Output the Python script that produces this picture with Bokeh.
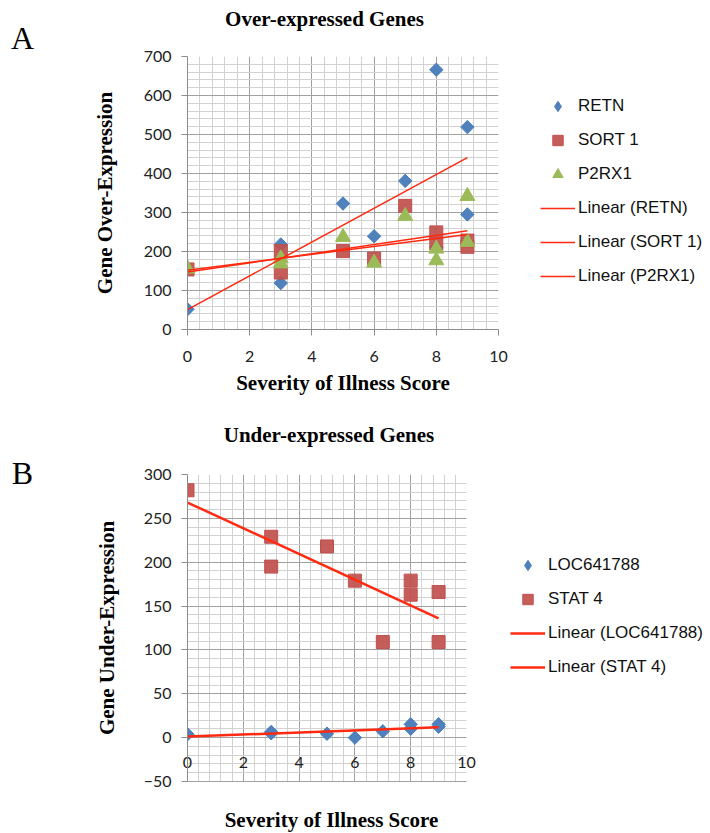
import numpy as np
from bokeh.plotting import figure
from bokeh.models import Range1d, SingleIntervalTicker, Label, Legend, LegendItem
from bokeh.layouts import column, row
from bokeh.embed import file_html
from bokeh.resources import INLINE

# ---------------- data ----------------
severity = [0, 3, 3, 5, 6, 7, 8, 8, 9, 9]

# Panel A: over-expressed genes
retn = [52, 218, 119, 323, 239, 381, 666, 210, 519, 295]
sort1 = [154, 201, 146, 201, 182, 317, 249, 220, 212, 228]
p2rx1 = [156, 169, 182, 237, 171, 291, 207, 177, 342, 224]

# Panel B: under-expressed genes
loc641788 = [3.8, 6.4, 5.0, 4.5, 0.0, 7.2, 15.2, 10.2, 15.2, 12.5]
stat4 = [282, 229, 195, 218, 179, 109, 179, 163, 166, 109]

BLUE = "#4F81BD"
RED = "#C0504D"
GREEN = "#9BBB59"
TREND = "#FF2A10"

TICK_FONT = "Lato"
SERIF = "Liberation Serif"
W_TOTAL, H_TOTAL = 710, 833
STRIP_W = 45
COL_W = W_TOTAL - STRIP_W
LEFT_B = 142                      # left border of every figure in the column
FRAME_X0 = STRIP_W + LEFT_B       # page x of the plot frames' left edge


def trend(xs, ys):
    slope, icept = np.polyfit(np.asarray(xs, float), np.asarray(ys, float), 1)
    x0, x1 = min(xs), max(xs)
    return [x0, x1], [icept + slope * x0, icept + slope * x1]


def style(p, xint, yint):
    p.outline_line_color = None
    p.xaxis.ticker = SingleIntervalTicker(interval=xint, num_minor_ticks=5)
    p.yaxis.ticker = SingleIntervalTicker(interval=yint, num_minor_ticks=5)
    p.xgrid.ticker = p.xaxis.ticker
    p.ygrid.ticker = p.yaxis.ticker
    for g in (p.xgrid, p.ygrid):
        g.grid_line_color = "#A0A0A0"
        g.grid_line_width = 1
        g.minor_grid_line_color = "#D2D2D2"
        g.minor_grid_line_width = 1
    for ax in (p.xaxis, p.yaxis):
        ax.axis_line_color = "#8C8C8C"
        ax.major_tick_line_color = "#8C8C8C"
        ax.major_tick_in = 0
        ax.major_tick_out = 6
        ax.minor_tick_in = 0
        ax.minor_tick_out = 0
        ax.major_label_text_font = TICK_FONT
        ax.major_label_text_font_size = "16px"
        ax.major_label_text_color = "#222222"
        ax.axis_label_text_font = SERIF
        ax.axis_label_text_font_style = "bold"
        ax.axis_label_text_font_size = "21px"
        ax.axis_label_text_color = "#000000"
    p.yaxis.major_label_standoff = 10


def legend(items, loc):
    return Legend(items=items, location=loc, glyph_width=35, glyph_height=26,
                  label_height=26, spacing=8, label_standoff=3, padding=0, margin=0,
                  border_line_alpha=0, background_fill_alpha=0,
                  label_text_font="Liberation Sans", label_text_font_size="17px",
                  label_text_color="#111111")


def text_fig(w, h, left=0):
    f = figure(frame_width=w, frame_height=h, x_range=Range1d(0, w), y_range=Range1d(0, h),
               x_axis_type=None, y_axis_type=None, min_border=0,
               min_border_left=left, min_border_right=0, min_border_top=0, min_border_bottom=0,
               title=None, output_backend="svg", toolbar_location=None)
    f.outline_line_color = None
    f.grid.visible = False
    return f


def add_text(f, x, y, text, size, bold=True):
    f.add_layout(Label(x=x, y=y, text=text, text_font=SERIF, text_font_size=size,
                       text_font_style="bold" if bold else "normal",
                       text_align="center", text_baseline="middle",
                       text_color="#000000"))


def col_text_fig(h):
    # frames in the column are aligned to the plots' frames (left border LEFT_B)
    return text_fig(COL_W - LEFT_B, h, left=LEFT_B)


# ---------------- left strip with panel letters ----------------
strip = text_fig(STRIP_W, H_TOTAL)
add_text(strip, 22, H_TOTAL - 37, "A", "32px", bold=False)
add_text(strip, 22, H_TOTAL - 472, "B", "32px", bold=False)

# ---------------- panel A ----------------
H1 = 44
head1 = col_text_fig(H1)
add_text(head1, 324 - FRAME_X0, H1 - 18, "Over-expressed Genes", "21px")

p1 = figure(frame_width=311, frame_height=273, min_border_left=LEFT_B, min_border_right=212,
            min_border_top=56 - H1, min_border_bottom=79, title=None,
            x_range=Range1d(0, 10), y_range=Range1d(0, 700),
            output_backend="svg", toolbar_location=None)
style(p1, 2, 100)
p1.xaxis.major_label_standoff = 15
p1.xaxis.axis_label_standoff = 6
p1.yaxis.axis_label_standoff = 24
p1.xaxis.axis_label = "Severity of Illness Score"
p1.yaxis.axis_label = "Gene Over-Expression"

# plain diamonds underneath (fully covered) so that the legend shows a diamond swatch
ka = p1.scatter(severity, retn, marker="diamond", size=12, fill_color=BLUE, line_color=BLUE)
ra = p1.scatter(severity, retn, marker="square", angle=np.pi / 4, size=9.5,
                fill_color=BLUE, line_color=BLUE)
rb = p1.scatter(severity, sort1, marker="square", size=13,
                fill_color=RED, line_color=RED, fill_alpha=0.92)
rc = p1.scatter(severity, p2rx1, marker="triangle", size=15,
                fill_color=GREEN, line_color=GREEN)
tx, ty = trend(severity, retn)
la = p1.line(tx, ty, line_color=TREND, line_width=1.5)
tx, ty = trend(severity, sort1)
lb = p1.line(tx, ty, line_color=TREND, line_width=1.5)
tx, ty = trend(severity, p2rx1)
lc = p1.line(tx, ty, line_color=TREND, line_width=1.5)

p1.add_layout(legend([
    LegendItem(label="RETN", renderers=[ka]),
    LegendItem(label="SORT 1", renderers=[rb]),
    LegendItem(label="P2RX1", renderers=[rc]),
    LegendItem(label="Linear (RETN)", renderers=[la]),
    LegendItem(label="Linear (SORT 1)", renderers=[lb]),
    LegendItem(label="Linear (P2RX1)", renderers=[lc]),
], (42, 40)), "right")

# ---------------- panel B ----------------
H2 = 54
head2 = col_text_fig(H2)
add_text(head2, 328.5 - FRAME_X0, (408 + H2) - 434, "Under-expressed Genes", "21px")

p2 = figure(frame_width=279, frame_height=307, min_border_left=LEFT_B, min_border_right=244,
            min_border_top=474 - 408 - H2, min_border_bottom=8, title=None,
            x_range=Range1d(0, 10), y_range=Range1d(-50, 300),
            output_backend="svg", toolbar_location=None)
style(p2, 2, 50)
p2.xaxis.major_tick_out = 0
p2.xaxis.axis_line_color = "#A0A0A0"
p2.xaxis.major_label_standoff = -25
p2.yaxis.axis_label_standoff = 22
p2.yaxis.axis_label = "Gene Under-Expression"

kd = p2.scatter(severity, loc641788, marker="diamond", size=12, fill_color=BLUE, line_color=BLUE)
rd = p2.scatter(severity, loc641788, marker="square", angle=np.pi / 4, size=9.5,
                fill_color=BLUE, line_color=BLUE)
re = p2.scatter(severity, stat4, marker="square", size=13,
                fill_color=RED, line_color=RED, fill_alpha=0.92)
tx, ty = trend(severity, loc641788)
ld = p2.line(tx, ty, line_color=TREND, line_width=2.5)
tx, ty = trend(severity, stat4)
le = p2.line(tx, ty, line_color=TREND, line_width=2.5)

p2.add_layout(legend([
    LegendItem(label="LOC641788", renderers=[kd]),
    LegendItem(label="STAT 4", renderers=[re]),
    LegendItem(label="Linear (LOC641788)", renderers=[ld]),
    LegendItem(label="Linear (STAT 4)", renderers=[le]),
], (44, 101)), "right")

foot2 = col_text_fig(44)
add_text(foot2, 331 - FRAME_X0, 833 - 819, "Severity of Illness Score", "21px")

layout = row(strip, column(head1, p1, head2, p2, foot2, spacing=0), spacing=0)
open("out.html", "w").write(file_html(layout, INLINE))
